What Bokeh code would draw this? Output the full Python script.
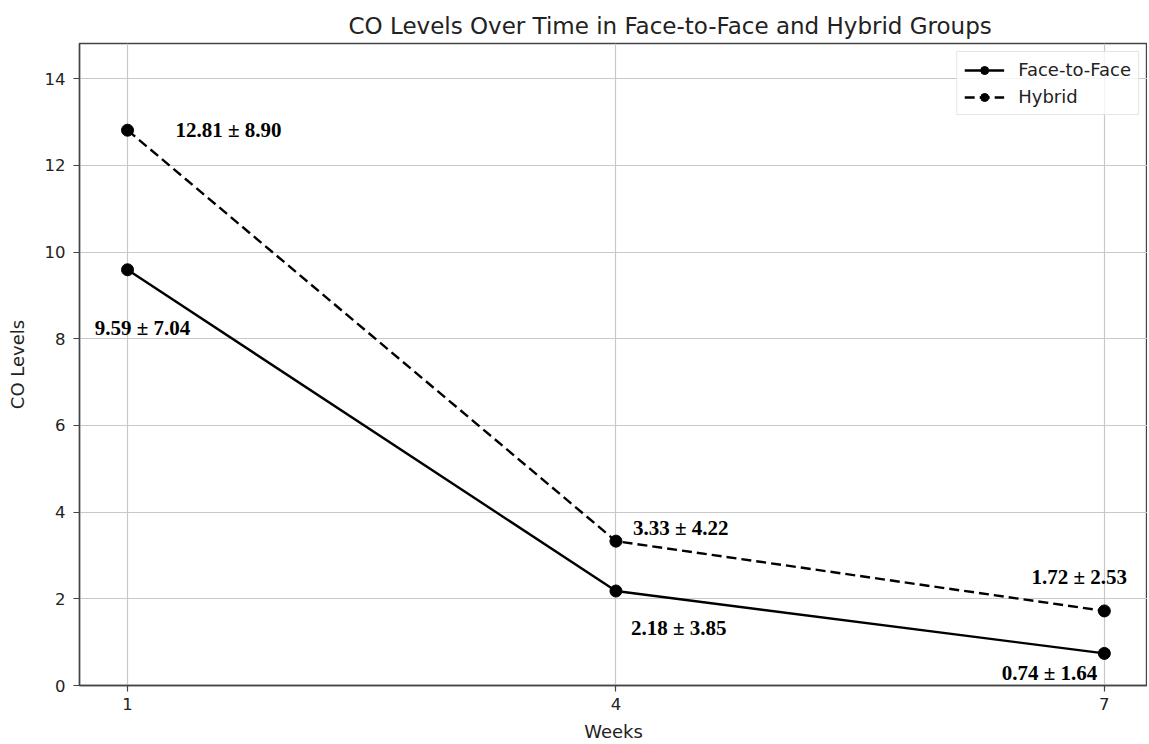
from bokeh.plotting import figure
from bokeh.models import FixedTicker, ColumnDataSource, Range1d, Legend
from bokeh.core.properties import value
from bokeh.embed import file_html
from bokeh.resources import INLINE

weeks = [1, 4, 7]
f2f_mean = [9.59, 2.18, 0.74]
f2f_sd = [7.04, 3.85, 1.64]
hyb_mean = [12.81, 3.33, 1.72]
hyb_sd = [8.90, 4.22, 2.53]
y_ticks = [0, 2, 4, 6, 8, 10, 12, 14]

f2f_lab = [f"{m:.2f} \u00b1 {s:.2f}" for m, s in zip(f2f_mean, f2f_sd)]
hyb_lab = [f"{m:.2f} \u00b1 {s:.2f}" for m, s in zip(hyb_mean, hyb_sd)]

FONT = "DejaVu Sans"

p = figure(width=1147, height=740, output_backend="svg", toolbar_location=None,
           frame_width=1068, frame_height=642,
           min_border_left=79, min_border_right=0, min_border_bottom=55, min_border_top=43,
           x_range=Range1d(0.705, 7.265), y_range=Range1d(0, 14.81),
           title="CO Levels Over Time in Face-to-Face and Hybrid Groups")

p.title.align = "left"
p.title.offset = 269
p.title.text_font = FONT
p.title.text_font_size = "23px"
p.title.text_font_style = "normal"
p.title.text_color = "#222222"

p.outline_line_color = "#444444"
p.outline_line_width = 1.4

for ax in (p.xaxis[0], p.yaxis[0]):
    ax.axis_line_color = "#444444"
    ax.axis_line_width = 1.4
    ax.major_tick_line_color = "#444444"
    ax.major_tick_line_width = 1.2
    ax.major_tick_in = 0
    ax.major_tick_out = 6
    ax.minor_tick_line_color = None
    ax.major_label_text_font = FONT
    ax.major_label_text_font_size = "16.5px"
    ax.major_label_text_color = "#222222"
    ax.axis_label_text_font = FONT
    ax.axis_label_text_font_size = "18px"
    ax.axis_label_text_font_style = "normal"
    ax.axis_label_text_color = "#222222"

p.xaxis.ticker = FixedTicker(ticks=weeks)
p.yaxis.ticker = FixedTicker(ticks=y_ticks)
p.xaxis.axis_label = "Weeks"
p.yaxis.axis_label = "CO Levels"
p.xaxis.major_label_standoff = 6
p.yaxis.major_label_standoff = 8
p.xaxis.axis_label_standoff = 8
p.yaxis.axis_label_standoff = 14

p.xgrid.grid_line_color = "#c8c8c8"
p.ygrid.grid_line_color = "#c8c8c8"
p.xgrid.grid_line_width = 1.2
p.ygrid.grid_line_width = 1.2
p.xgrid.ticker = FixedTicker(ticks=weeks)
p.ygrid.ticker = FixedTicker(ticks=y_ticks)

src_f = ColumnDataSource(dict(x=weeks, y=f2f_mean, t=f2f_lab,
                              dx=[15, 15, -7], dy=[58, 37, 20],
                              al=["center", "left", "right"]))
src_h = ColumnDataSource(dict(x=weeks, y=hyb_mean, t=hyb_lab,
                              dx=[48, 17, -25], dy=[0, -13, -34],
                              al=["left", "left", "center"]))

l1 = p.line("x", "y", source=src_f, line_color="black", line_width=2.4)
s1 = p.scatter("x", "y", source=src_f, size=12, color="black")
l2 = p.line("x", "y", source=src_h, line_color="black", line_width=2.4, line_dash="10 5")
s2 = p.scatter("x", "y", source=src_h, size=12, color="black")

for src in (src_f, src_h):
    p.text("x", "y", text="t", source=src, x_offset="dx", y_offset="dy",
           text_align="al", text_baseline="middle",
           text_font=value("Liberation Serif"), text_font_style="bold",
           text_font_size="21px", text_color="black")

legend = Legend(items=[("Face-to-Face", [l1, s1]), ("Hybrid", [l2, s2])],
                location="top_right")
legend.label_text_font = FONT
legend.label_text_font_size = "18px"
legend.label_text_color = "#222222"
legend.border_line_color = "#cccccc"
legend.border_line_width = 1
legend.background_fill_alpha = 0.8
legend.margin = 8
legend.padding = 7
legend.spacing = 6
legend.glyph_width = 40
legend.label_standoff = 14
p.add_layout(legend)

open("out.html", "w").write(file_html(p, INLINE))
